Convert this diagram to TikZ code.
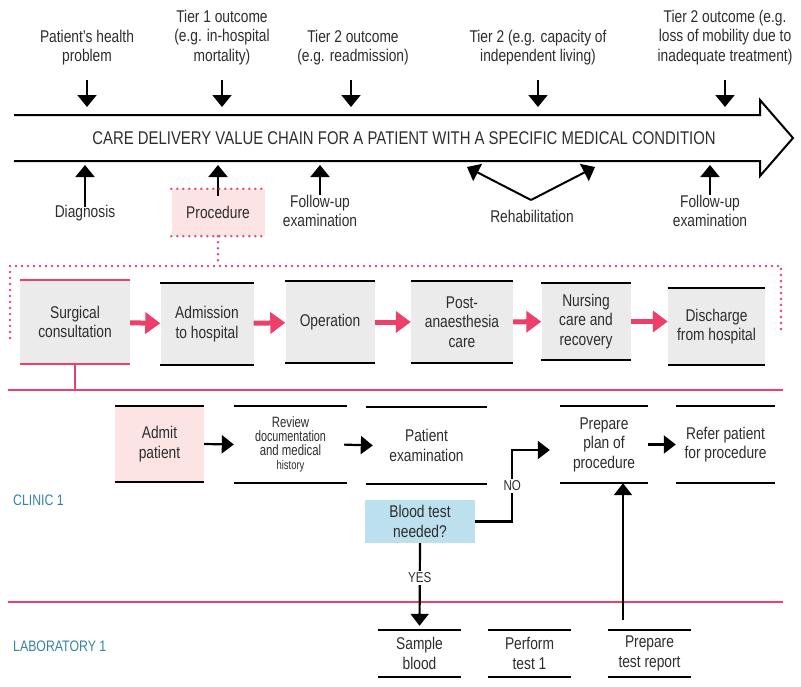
\documentclass[tikz,border=0pt]{standalone}
\usepackage{fontspec}
\setmainfont{Liberation Sans}[FakeStretch=0.81]
\usepackage{xcolor}
\usetikzlibrary{arrows.meta,positioning}

\definecolor{lanepink}{RGB}{236,64,106}
\definecolor{procgray}{RGB}{235,235,235}
\definecolor{admitpink}{RGB}{252,228,229}
\definecolor{askblue}{RGB}{188,224,238}
\definecolor{laneteal}{RGB}{52,132,160}
\definecolor{inkgray}{RGB}{45,45,45}

\tikzset{
  txt/.style={align=center, font=\fontsize{17}{19.5}\selectfont, text=inkgray, inner sep=1pt},
  stage/.style={txt, fill=procgray, inner sep=0pt},
  task/.style={txt, inner sep=0pt, minimum height=77, minimum width=88},
  lanelbl/.style={anchor=west, font=\fontsize{15.2}{16}\selectfont, text=laneteal, inner sep=0pt},
  blk/.style={-{Triangle[length=12pt,width=19pt]}, line width=2pt},
  flow/.style={-{Triangle[length=12pt,width=18pt]}, line width=2.2pt},
  pnk/.style={-{Triangle[length=15pt,width=21pt]}, line width=5pt, lanepink},
  lane/.style={lanepink, line width=2pt},
  rim/.style={line width=2.2pt},
  dotline/.style={lanepink, line width=2.6pt, line cap=round, dash pattern=on 0pt off 6pt},
  tag/.style={fill=white, font=\fontsize{14.3}{15}\selectfont, text=inkgray, inner sep=2pt},
}

\begin{document}
\begin{tikzpicture}[x=1pt,y=-1pt]
\useasboundingbox (0,0) rectangle (801,686);

% value chain arrow
\draw[line width=2pt, miter limit=20] (14,115) -- (760,115) -- (760,100) -- (793,138) -- (760,176) -- (760,161) -- (14,161);
\node (chain) at (404,138) [txt, font=\fontsize{18.4}{19}\selectfont] {CARE DELIVERY VALUE CHAIN FOR A PATIENT WITH A SPECIFIC MEDICAL CONDITION};
\coordinate (top) at (0,107);
\coordinate (bot) at (0,165);

% outcomes above the chain
\node (prob) at (87,47.5) [txt] {Patient's health\\problem};
\node (tier1) at (222,37.5) [txt] {Tier 1 outcome\\(e.g. in-hospital\\mortality)};
\node (readm) at (353,47.5) [txt] {Tier 2 outcome\\(e.g. readmission)};
\node (indep) at (538,47.5) [txt] {Tier 2 (e.g. capacity of\\independent living)};
\node (mobil) at (725,37.5) [txt] {Tier 2 outcome (e.g.\\loss of mobility due to\\inadequate treatment)};
\draw[blk] (87,80) -- (prob |- top);
\draw[blk] (222,80) -- (tier1 |- top);
\draw[blk] (351,80) -- ([xshift=-2]readm |- top);
\draw[blk] (538,80) -- (indep |- top);
\draw[blk] (725,80) -- (mobil |- top);

% activities below the chain
\node (diag) at (85,213) [txt] {Diagnosis};
\node (proc) at (218,212.5) [txt, fill=admitpink, minimum width=93, minimum height=47] {Procedure};
\node (fup1) at (320,211) [txt] {Follow-up\\examination};
\node (rehab) at (532,216) [txt] {Rehabilitation};
\node (fup2) at (710,211) [txt] {Follow-up\\examination};
\draw[blk] ([yshift=-3]diag.north) -- (diag |- bot);
\draw[blk] ([yshift=-7]proc.north) -- (proc |- bot);
\draw[blk] ([yshift=-1]fup1.north) -- (fup1 |- bot);
\draw[blk] ([yshift=-1]fup2.north) -- (fup2 |- bot);
\coordinate (vtx) at (531,200);
\coordinate (rl) at (467,167);
\coordinate (rr) at (595,167);
\draw[blk] (vtx) -- (rl);
\draw[blk] (vtx) -- (rr);

% procedure bracket
\draw[dotline] (proc.north west) -- (proc.north east);
\draw[dotline] (proc.south west) -- (proc.south east);
\draw[dotline] (proc.south) -- (218,266);
\draw[dotline] (10,338) -- (10,266) -- (781,266) -- (781,333);

% hospital stages
\node (surg) at (75,322) [stage, minimum width=110, minimum height=84] {Surgical\\consultation};
\node (adm) at (207,324) [stage, minimum width=93, minimum height=82] {Admission\\to hospital};
\node (oper) at (330,322) [stage, minimum width=89, minimum height=82] {Operation};
\node (post) at (462,322) [stage, minimum width=102, minimum height=82] {Post-\\anaesthesia\\care};
\node (nurs) at (586,321.5) [stage, minimum width=89, minimum height=77] {Nursing\\care and\\recovery};
\node (disc) at (716.5,326.5) [stage, minimum width=97, minimum height=77] {Discharge\\from hospital};
\draw[rim, lanepink] (surg.north west) -- (surg.north east) (surg.south west) -- (surg.south east);
\foreach \n in {adm,oper,post,nurs,disc}
  \draw[rim] (\n.north west) -- (\n.north east) (\n.south west) -- (\n.south east);
\draw[pnk] (surg) -- (adm);
\draw[pnk] (adm) -- (oper);
\draw[pnk] (oper) -- (post);
\draw[pnk] (post) -- (nurs);
\draw[pnk] (nurs) -- (disc.west |- nurs);

% swim lanes
\draw[lane] (surg.south) -- (75,390);
\draw[lane] (8,390) -- (783,390);
\draw[lane] (8,602) -- (783,602);
\node (clinic) at (13,500) [lanelbl] {CLINIC 1};
\node (lab) at (13,646) [lanelbl] {LABORATORY 1};

% clinic tasks
\node (admit) at (159.5,444) [task, fill=admitpink, minimum width=89, minimum height=76] {Admit\\patient};
\node (review) at (290.5,444.5) [task, minimum width=113, font=\fontsize{15}{14.2}\selectfont\addfontfeatures{FakeStretch=0.76}] {Review\\{\fontsize{15}{14.2}\selectfont\addfontfeatures{FakeStretch=0.72}documentation}\\and medical\\{\fontsize{12.5}{14.2}\selectfont history}};
\node (exam) at (426.5,445.5) [task, minimum width=121] {Patient\\examination};
\node (plan) at (604,444.5) [task, minimum width=88] {Prepare\\plan of\\procedure};
\node (refer) at (725.5,444.5) [task, minimum width=99] {Refer patient\\for procedure};
\node (ask) at (420,521.5) [txt, fill=askblue, minimum width=110, minimum height=43] {Blood test\\needed?};

% laboratory tasks
\node (sample) at (419.5,653.5) [task, minimum width=83, minimum height=47] {Sample\\blood};
\node (perform) at (529.5,653.5) [task, minimum width=83, minimum height=47] {Perform\\test 1};
\node (report) at (649.5,653.5) [task, minimum width=83, minimum height=47] {Prepare\\test report};
\foreach \n in {admit,review,exam,plan,refer,sample,perform,report}
  \draw[rim] (\n.north west) -- (\n.north east) (\n.south west) -- (\n.south east);

% clinic flow
\draw[flow] (admit.east) -- (review.west);
\draw[flow, shorten <=3pt] ([xshift=-6]review.east) -- ([xshift=7]exam.west);
\draw[flow] (plan.east) -- (refer.west);
\draw[flow, shorten >=10pt] (ask.east) -- ++(37,0) |- (plan.west |- 0,450) node[pos=0.25, tag] {NO};
\draw[flow, shorten >=4pt] (ask.south) -- (sample.north) node[pos=0.4, tag] {YES};
\coordinate (up) at (623,620);
\draw[flow] (up) -- (up |- plan.south);
\end{tikzpicture}
\end{document}
